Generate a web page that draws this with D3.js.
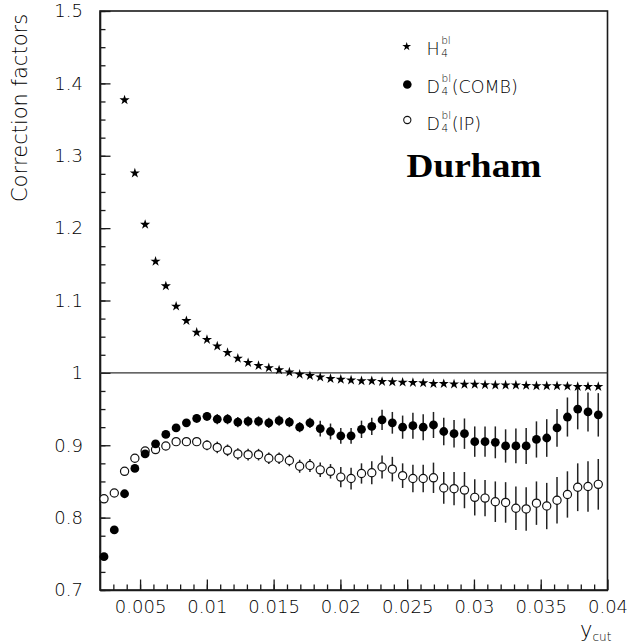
<!DOCTYPE html>
<html><head><meta charset="utf-8">
<script src="https://cdn.jsdelivr.net/npm/d3@7"></script>
<style>body{margin:0;background:#fff}svg{display:block}</style>
</head><body><svg id="c" width="628" height="644"></svg>
<script>
// y_cut values (bin centres)
const ycut = [0.00230,0.00307,0.00384,0.00461,0.00538,0.00616,0.00693,0.00770,0.00847,0.00924,
0.01001,0.01078,0.01155,0.01232,0.01309,0.01387,0.01464,0.01541,0.01618,0.01695,
0.01772,0.01849,0.01926,0.02003,0.02080,0.02158,0.02235,0.02312,0.02389,0.02466,
0.02543,0.02620,0.02697,0.02774,0.02851,0.02929,0.03006,0.03083,0.03160,0.03237,
0.03314,0.03391,0.03468,0.03545,0.03622,0.03700,0.03777,0.03854,0.03931];
// H4bl (stars)
const hbl = [null,null,1.377,1.276,1.205,1.154,1.120,1.092,1.072,1.056,
1.046,1.037,1.028,1.020,1.014,1.010,1.007,1.004,1.001,0.998,
0.996,0.994,0.992,0.991,0.990,0.989,0.989,0.988,0.9875,0.987,
0.9866,0.986,0.985,0.985,0.9845,0.984,0.984,0.9835,0.983,0.983,
0.983,0.9825,0.982,0.982,0.982,0.9815,0.981,0.981,0.981];
// D4bl(COMB) (filled circles) and errors
const comb = [0.746,0.783,0.833,0.868,0.888,0.902,0.915,0.924,0.931,0.937,
0.940,0.936,0.936,0.932,0.933,0.933,0.931,0.934,0.932,0.925,
0.931,0.923,0.919,0.913,0.913,0.922,0.926,0.935,0.931,0.925,
0.927,0.925,0.928,0.919,0.916,0.916,0.905,0.905,0.904,0.899,
0.899,0.899,0.908,0.910,0.924,0.939,0.950,0.946,0.942];
const combErr = [0.002,0.002,0.002,0.002,0.002,0.002,0.002,0.003,0.004,0.006,
0.006,0.007,0.007,0.007,0.007,0.007,0.007,0.007,0.007,0.007,
0.007,0.011,0.011,0.011,0.011,0.012,0.012,0.014,0.015,0.016,
0.018,0.018,0.018,0.019,0.019,0.021,0.021,0.021,0.022,0.023,
0.024,0.025,0.025,0.026,0.026,0.027,0.028,0.027,0.030];
// D4bl(IP) (open circles) and errors
const ip = [0.826,0.834,0.864,0.882,0.892,0.894,0.899,0.905,0.905,0.905,
0.900,0.897,0.893,0.888,0.887,0.887,0.882,0.882,0.879,0.871,
0.872,0.866,0.864,0.856,0.854,0.861,0.862,0.870,0.867,0.858,
0.854,0.854,0.855,0.841,0.840,0.838,0.828,0.827,0.822,0.821,
0.813,0.812,0.820,0.816,0.824,0.832,0.842,0.843,0.846];
const ipErr = [0.002,0.002,0.002,0.002,0.002,0.002,0.002,0.004,0.004,0.004,
0.007,0.008,0.008,0.008,0.008,0.008,0.008,0.008,0.008,0.009,
0.009,0.010,0.010,0.014,0.015,0.014,0.016,0.016,0.017,0.017,
0.019,0.019,0.021,0.022,0.023,0.025,0.025,0.025,0.028,0.028,
0.030,0.030,0.030,0.032,0.032,0.032,0.033,0.035,0.035];
const xMajor = [0.005,0.01,0.015,0.02,0.025,0.03,0.035,0.04];
const yMajor = [0.7,0.8,0.9,1,1.1,1.2,1.3,1.4,1.5];

const svg = d3.select("#c");
const L=100,R=607.5,T=11,B=590;
const x = d3.scaleLinear().domain([0.002,0.04]).range([L,R]);
const y = d3.scaleLinear().domain([0.7,1.5]).range([B,T]);
const ink="#1a1a1a";
const SANS = "'DejaVu Sans',sans-serif";
function thin(sel,size){ return sel.style("font-family",SANS).style("font-weight",300).style("font-size",size+"px").attr("fill","#000"); }

// frame
svg.append("rect").attr("x",L).attr("y",T).attr("width",R-L).attr("height",B-T)
  .attr("fill","none").attr("stroke",ink).attr("stroke-width",1.6);

// x axis
const xMinor = d3.range(3,40).map(d=>d/1000);
svg.append("g").attr("transform",`translate(0,${B})`)
  .call(d3.axisBottom(x).tickValues(xMinor).tickSize(-5.5).tickSizeOuter(0).tickFormat(""))
  .call(g=>{g.select(".domain").remove();g.selectAll("line").attr("stroke",ink).attr("stroke-width",1.3);});
svg.append("g").attr("transform",`translate(0,${B})`)
  .call(d3.axisBottom(x).tickValues(xMajor).tickSize(-10.5).tickSizeOuter(0).tickPadding(10).tickFormat(d3.format("")))
  .call(g=>{g.select(".domain").attr("stroke",ink).attr("stroke-width",1.6);
    g.selectAll("line").attr("stroke",ink).attr("stroke-width",1.3);
    thin(g.selectAll("text"),18);});

// y axis
const yMinor = d3.range(0,33).map(i=>0.7+i*0.025);
svg.append("g").attr("transform",`translate(${L},0)`)
  .call(d3.axisLeft(y).tickValues(yMinor).tickSize(-5.5).tickSizeOuter(0).tickFormat(""))
  .call(g=>{g.select(".domain").remove();g.selectAll("line").attr("stroke",ink).attr("stroke-width",1.3);});
svg.append("g").attr("transform",`translate(${L},0)`)
  .call(d3.axisLeft(y).tickValues(yMajor).tickSize(-10.5).tickSizeOuter(0).tickPadding(17).tickFormat(d3.format("")))
  .call(g=>{g.select(".domain").attr("stroke",ink).attr("stroke-width",1.6);
    g.selectAll("line").attr("stroke",ink).attr("stroke-width",1.3);
    thin(g.selectAll("text"),18);});

// reference line at 1
svg.append("line").attr("x1",L).attr("x2",R).attr("y1",y(1)).attr("y2",y(1))
  .attr("stroke","#333").attr("stroke-width",1.3);

// axis titles
thin(svg.append("text").attr("transform",`translate(27,108) rotate(-90)`).attr("text-anchor","middle"),21)
  .text("Correction factors");
const yl = thin(svg.append("text").attr("x",580).attr("y",637),21);
yl.append("tspan").text("y");
yl.append("tspan").style("font-size","12px").attr("dy",4).text("cut");

// error bars
function bars(vals, errs){
  svg.append("g").selectAll("line").data(vals.map((v,i)=>({x:ycut[i],v,e:errs[i]})))
    .join("line")
    .attr("x1",d=>x(d.x)).attr("x2",d=>x(d.x))
    .attr("y1",d=>y(d.v-d.e)).attr("y2",d=>y(d.v+d.e))
    .attr("stroke","#222").attr("stroke-width",1.5);
}
bars(comb,combErr);
bars(ip,ipErr);

// markers
svg.append("g").selectAll("circle").data(ip.map((v,i)=>({x:ycut[i],v})))
  .join("circle").attr("cx",d=>x(d.x)).attr("cy",d=>y(d.v)).attr("r",4.1)
  .attr("fill","#fff").attr("stroke","#111").attr("stroke-width",1.2);
svg.append("g").selectAll("circle").data(comb.map((v,i)=>({x:ycut[i],v})))
  .join("circle").attr("cx",d=>x(d.x)).attr("cy",d=>y(d.v)).attr("r",4.4).attr("fill","#000");
const star = d3.symbol().type(d3.symbolStar).size(32);
svg.append("g").selectAll("path").data(hbl.map((v,i)=>({x:ycut[i],v})).filter(d=>d.v!==null))
  .join("path").attr("transform",d=>`translate(${x(d.x)},${y(d.v)})`).attr("d",star()).attr("fill","#000");

// legend
const lg = svg.append("g");
lg.append("path").attr("transform","translate(406.7,46.5)").attr("d",d3.symbol().type(d3.symbolStar).size(24)()).attr("fill","#000");
lg.append("circle").attr("cx",407.3).attr("cy",84.5).attr("r",4.3).attr("fill","#000");
lg.append("circle").attr("cx",407.3).attr("cy",120).attr("r",3.6).attr("fill","#fff").attr("stroke","#111").attr("stroke-width",1.1);
const labels = [["H",""],["D","(COMB)"],["D","(IP)"]];
labels.forEach((l,i)=>{
  const by = 55 + i*37.5;
  const t = thin(lg.append("text").attr("x",426.5).attr("y",by),17.5).text(l[0]);
  const w = t.node().getComputedTextLength();
  thin(lg.append("text").attr("x",426.5+w+1.5).attr("y",by-11),10.5).text("bl");
  thin(lg.append("text").attr("x",426.5+w+1.5).attr("y",by+2),10.5).text("4");
  if(l[1]) thin(lg.append("text").attr("x",451.7).attr("y",by),17.5).text(l[1]);
});
svg.append("text").attr("x",406.5).attr("y",177)
  .style("font-family","'Liberation Serif','Times New Roman',serif").style("font-weight","bold").style("font-size","34px")
  .attr("textLength",135).attr("lengthAdjust","spacingAndGlyphs")
  .attr("fill","#000").text("Durham");
</script></body></html>
